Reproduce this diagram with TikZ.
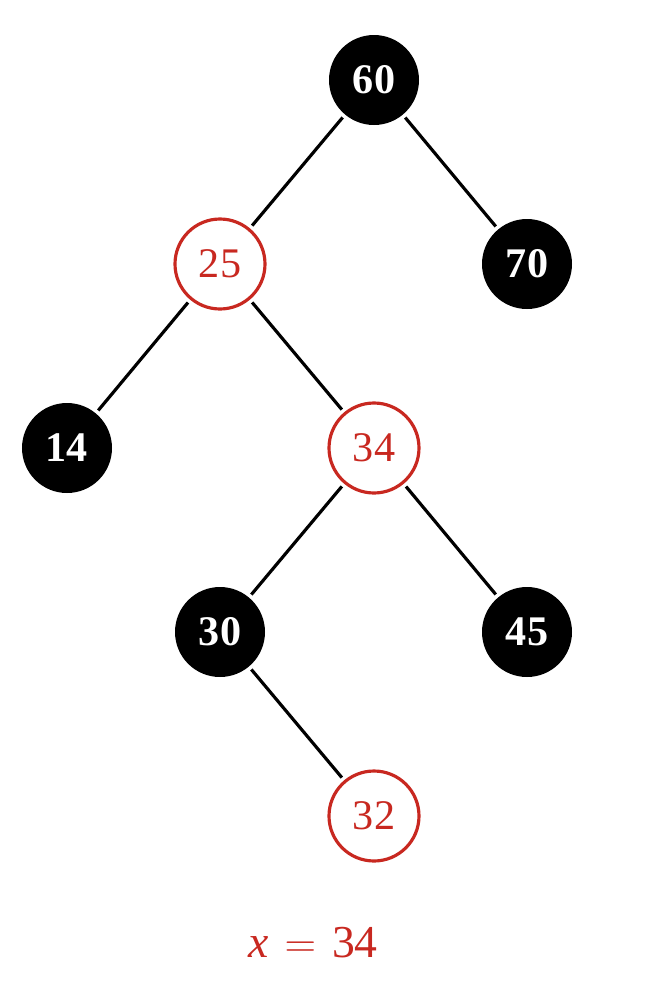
\documentclass[tikz,border=0pt]{standalone}
\usepackage{fontspec}
\setmainfont{Liberation Serif}
\usetikzlibrary{positioning}
\definecolor{rbRed}{RGB}{200,40,32}
\tikzstyle{treeNode} = [circle, minimum size=1.8cm, inner sep=0pt, font=\fontsize{24}{28}\selectfont]
\tikzstyle{blackNode} = [treeNode, fill=black, text=white, font=\fontsize{24}{28}\selectfont\bfseries]
\tikzstyle{redNode} = [treeNode, draw=rbRed, line width=1.8pt, fill=white, text=rbRed]
\tikzstyle{edge} = [line width=1.8pt, draw=black, shorten <=2pt, shorten >=2pt]

\begin{document}
\begin{tikzpicture}[node distance=3.68cm]
        \useasboundingbox (0,0) rectangle (12.92,-20.08);
        \node (n60) [blackNode] at (7.48,-1.6) {60};
        \node (n25) [redNode, below of=n60, xshift=-3.08cm] {25};
        \node (n70) [blackNode, below of=n60, xshift=3.06cm] {70};
        \node (n14) [blackNode, below of=n25, xshift=-3.06cm] {14};
        \node (n34) [redNode, below of=n25, xshift=3.08cm] {34};
        \node (n30) [blackNode, below of=n34, xshift=-3.08cm] {30};
        \node (n45) [blackNode, below of=n34, xshift=3.06cm] {45};
        \node (n32) [redNode, below of=n30, xshift=3.08cm] {32};
        \node (lbl) [text=rbRed, font=\fontsize{26}{30}\selectfont] at (6.26,-18.86)
            {\textit{x}\hspace{0.35em}$=$\hspace{0.35em}34};

        \draw [edge] (n60) -- (n25);
        \draw [edge] (n60) -- (n70);
        \draw [edge] (n25) -- (n14);
        \draw [edge] (n25) -- (n34);
        \draw [edge] (n34) -- (n30);
        \draw [edge] (n34) -- (n45);
        \draw [edge] (n30) -- (n32);
    \end{tikzpicture}
\end{document}
